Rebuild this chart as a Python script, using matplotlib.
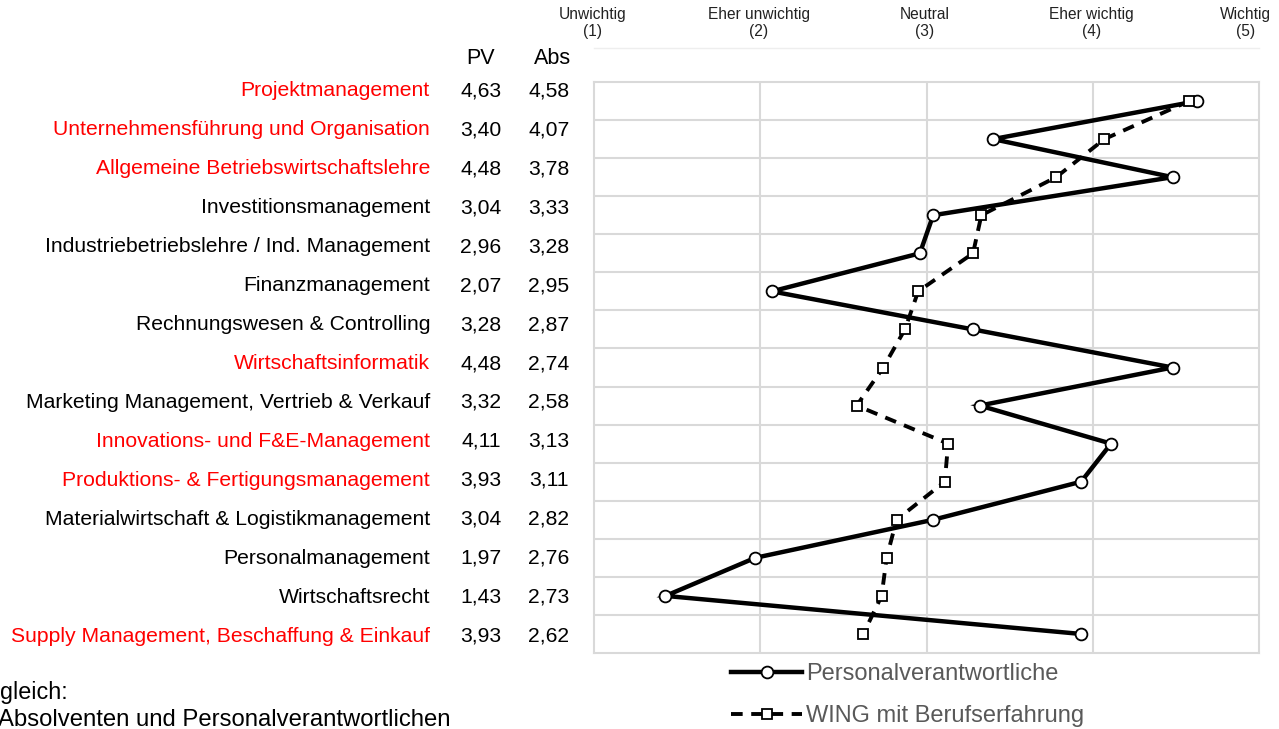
import matplotlib
matplotlib.use("Agg")
import matplotlib.pyplot as plt
from matplotlib.lines import Line2D
from matplotlib.transforms import blended_transform_factory

plt.rcParams['font.family'] = ['Liberation Sans', 'DejaVu Sans']

categories = [
    "Projektmanagement",
    "Unternehmensführung und Organisation",
    "Allgemeine Betriebswirtschaftslehre",
    "Investitionsmanagement",
    "Industriebetriebslehre / Ind. Management",
    "Finanzmanagement",
    "Rechnungswesen & Controlling",
    "Wirtschaftsinformatik",
    "Marketing Management, Vertrieb & Verkauf",
    "Innovations- und F&E-Management",
    "Produktions- & Fertigungsmanagement",
    "Materialwirtschaft & Logistikmanagement",
    "Personalmanagement",
    "Wirtschaftsrecht",
    "Supply Management, Beschaffung & Einkauf",
]
highlight = [True, True, True, False, False, False, False, True, False, True, True, False, False, False, True]
pv = [4.63, 3.40, 4.48, 3.04, 2.96, 2.07, 3.28, 4.48, 3.32, 4.11, 3.93, 3.04, 1.97, 1.43, 3.93]
absv = [4.58, 4.07, 3.78, 3.33, 3.28, 2.95, 2.87, 2.74, 2.58, 3.13, 3.11, 2.82, 2.76, 2.73, 2.62]
scale_labels = ["Unwichtig\n(1)", "Eher unwichtig\n(2)", "Neutral\n(3)", "Eher wichtig\n(4)", "Wichtig\n(5)"]
series_names = ["Personalverantwortliche", "WING mit Berufserfahrung"]

W, H = 1279, 729
fig = plt.figure(figsize=(W / 100, H / 100), dpi=100)

def fx(x):
    return x / W

def fy(y):
    return 1 - y / H

ax = fig.add_axes([fx(594), fy(653), fx(1259) - fx(594), (653 - 82) / H])
n = len(categories)
ypos = list(range(1, n + 1))
ax.set_xlim(1, 5)
ax.set_ylim(n + 0.5, 0.5)
ax.set_xticks([2, 3, 4])
ax.set_yticks([i + 0.5 for i in range(1, n)])
ax.grid(True, color='#d9d9d9', linewidth=1.5)
ax.tick_params(length=0, labelbottom=False, labelleft=False)
for s in ax.spines.values():
    s.set_color('#d9d9d9')
    s.set_linewidth(1.5)
ax.set_axisbelow(True)

l1, = ax.plot(pv, ypos, color='black', linewidth=3.2, marker='o', markersize=8.5,
              markerfacecolor='white', markeredgecolor='black', markeredgewidth=1.3,
              solid_joinstyle='miter', zorder=3)
l2, = ax.plot(absv, ypos, color='black', linewidth=2.8, linestyle=(0, (3, 2.2)), marker='s',
              markersize=7.5, markerfacecolor='white', markeredgecolor='black',
              markeredgewidth=1.3, zorder=4)

# header scale labels
trans = blended_transform_factory(ax.transData, fig.transFigure)
for i, lab in enumerate(scale_labels):
    xv = i + 1 if i < 4 else 4.93
    ax.text(xv - 0.01, fy(23), lab, transform=trans, ha='center', va='center',
            fontsize=11.2, color='#222222', linespacing=1.15, clip_on=False)
fig.add_artist(Line2D([fx(594), fx(1259)], [fy(48), fy(48)], color='#eeeeee', linewidth=1))

# column headers
fig.text(fx(481), fy(58), "PV", ha='center', va='center', fontsize=15.5)
fig.text(fx(553), fy(58), "Abs", ha='center', va='center', fontsize=15.5)

# category labels and values
for i, (cat, hl, a, b) in enumerate(zip(categories, highlight, pv, absv)):
    y = 91 + 38.93 * i
    fig.text(fx(430), fy(y), cat, ha='right', va='center', fontsize=15.2,
             color='#ff0000' if hl else 'black')
    fig.text(fx(481), fy(y), f"{a:.2f}".replace('.', ','), ha='center', va='center', fontsize=15.2)
    fig.text(fx(549), fy(y), f"{b:.2f}".replace('.', ','), ha='center', va='center', fontsize=15.2)

# bottom-left text (cut off in the original)
fig.text(fx(0), fy(693), "gleich:", ha='left', va='center', fontsize=16.8)
fig.text(fx(-2), fy(720), "Absolventen und Personalverantwortlichen", ha='left', va='center', fontsize=17.2)

leg = fig.legend([l1, l2], series_names, loc='upper left', bbox_to_anchor=(fx(722), fy(654)),
                 frameon=False, fontsize=17, handlelength=3.0, handletextpad=0.15,
                 labelspacing=0.82, numpoints=1, borderaxespad=0)
for t in leg.get_texts():
    t.set_color('#595959')

fig.savefig("out.png", dpi=100)
